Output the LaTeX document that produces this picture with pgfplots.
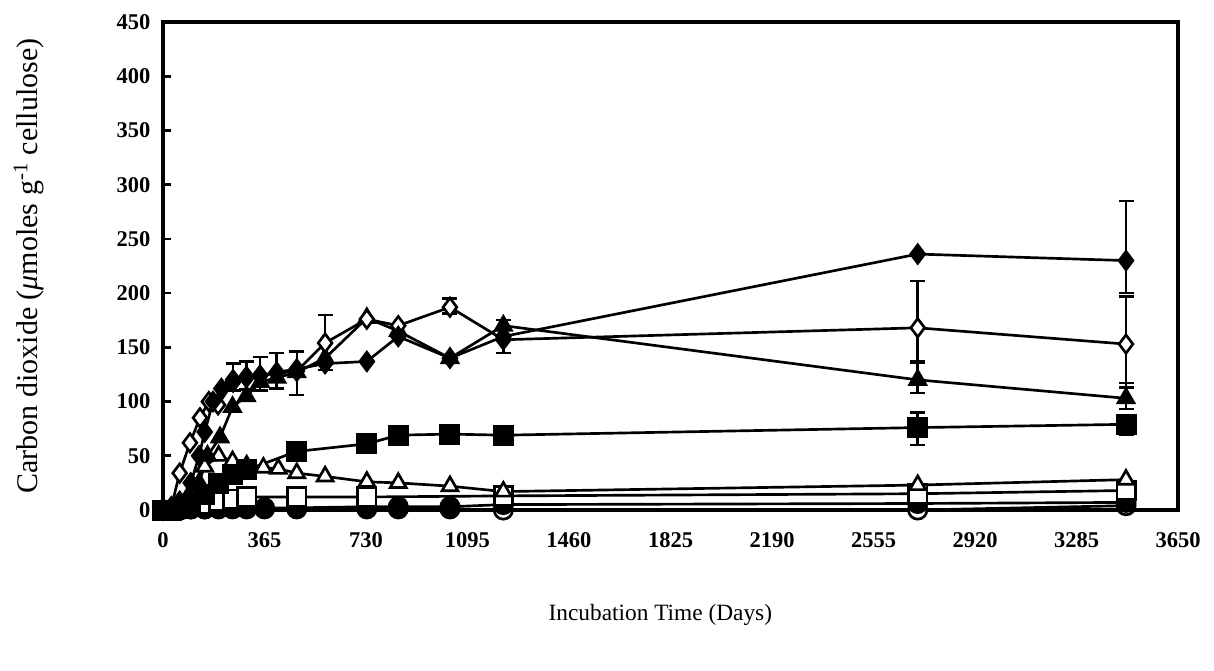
\documentclass[border=0pt]{standalone}
\usepackage{pgfplots}
\pgfplotsset{compat=1.18}
\usepackage{fontspec}
\setmainfont{Liberation Serif}
\begin{document}
\begin{tikzpicture}[x=1pt,y=1pt]
\path[use as bounding box] (-97.8pt,-96pt) rectangle (630.6pt,306pt);
\begin{axis}[
  scale only axis,
  width=609pt, height=292.8pt,
  xmin=0, xmax=3650, ymin=0, ymax=450,
  xtick={0,365,...,3650},
  ytick={0,50,...,450},
  axis line style={line width=2.6pt},
  tick style={line width=1.6pt, black},
  ytick pos=left, xtick pos=bottom,
  tick align=inside,
  major tick length=5pt,
  xtick style={draw=none},
  xticklabel style={font=\fontsize{13.5}{16}\selectfont\bfseries, yshift=-10pt},
  yticklabel style={font=\fontsize{13.5}{16}\selectfont\bfseries, xshift=-4pt},
  /pgf/number format/assume math mode=true,
  /pgf/number format/1000 sep={},
  clip=false,
  xlabel={Incubation Time (Days)},
  xlabel style={font=\fontsize{14}{17}\selectfont, at={(axis description cs:0.49,-0.215)}, anchor=center},
  ylabel={Carbon dioxide (\textit{μ}moles g\textsuperscript{-1} cellulose)},
  ylabel style={font=\fontsize{18}{21}\selectfont, at={(axis description cs:-0.132,0.5)}, anchor=center},
  every axis plot/.append style={line width=1.6pt, black},
  mark size=5.5pt,
  every mark/.append style={line width=1.5pt, solid},
]
% error bars
\addplot[draw=none, no markers, forget plot,
  error bars/.cd, y dir=both, y explicit,
  error bar style={draw=black, line width=1.5pt},
  error mark options={draw=black, rotate=90, mark size=4.5pt, line width=1.5pt}]
coordinates {
 (252,122) +=(0,13) -=(0,12)
 (300,123) +=(0,14) -=(0,12)
 (349,124) +=(0,17) -=(0,14)
 (409,127) +=(0,18) -=(0,15)
 (481,128) +=(0,18) -=(0,22)
 (583,154) +=(0,26) -=(0,25)
 (1032,187) +=(0,8) -=(0,6)
 (1224,160) +=(0,15) -=(0,15)
 (2714,168) +=(0,43) -=(0,31)
 (2714,120) +=(0,16) -=(0,12)
 (2714,76) +=(0,14) -=(0,16)
 (3463,230) +=(0,55) -=(0,30)
 (3463,153) +=(0,44) -=(0,40)
 (3463,103) +=(0,14) -=(0,10)
 (3463,79) +=(0,8) -=(0,10)
};
% open circle
\addplot[mark=*, mark options={fill=white}] coordinates {
 (0,0) (30,0) (60,0) (100,1) (150,1) (200,1) (250,1) (301,1) (365,1) (481,1) (733,1) (846,1) (1032,1) (1224,0) (2714,0) (3463,4)
};
% filled circle
\addplot[mark=*, mark options={fill=black}] coordinates {
 (0,0) (30,0) (60,0) (100,1) (150,1) (200,2) (250,2) (301,2) (365,2) (481,2) (733,3) (846,3) (1032,3) (1224,5) (2714,6) (3463,7)
};
% open square
\addplot[mark=square*, mark options={fill=white}] coordinates {
 (0,0) (30,0) (60,1) (100,3) (150,5) (200,8) (250,10) (301,12) (481,12) (733,12) (1224,13) (2714,15) (3463,18)
};
% open triangle
\addplot[mark=triangle*, mark options={fill=white}] coordinates {
 (0,0) (30,1) (60,3) (100,15) (150,40) (200,50) (250,45) (301,41) (361,39) (415,38) (481,34) (583,31) (733,26) (846,25) (1032,22) (1224,17) (2714,23) (3463,28)
};
% filled square
\addplot[mark=square*, mark options={fill=black}] coordinates {
 (0,0) (30,0) (60,1) (100,5) (150,14) (200,24) (250,33) (301,37) (481,54) (733,61) (846,69) (1032,70) (1224,69) (2714,76) (3463,79)
};
% filled triangle
\addplot[mark=triangle*, mark options={fill=black}] coordinates {
 (0,0) (30,1) (60,3) (100,10) (130,25) (160,50) (205,67) (250,95) (300,105) (350,118) (410,122) (481,127) (583,140) (733,177) (846,165) (1032,140) (1224,170) (2714,120) (3463,103)
};
% open diamond
\addplot[mark=diamond*, mark options={fill=white}] coordinates {
 (0,0) (30,3) (60,34) (97,62) (133,85) (165,100) (198,97) (252,118) (300,122) (349,124) (409,126) (481,128) (583,154) (733,176) (846,170) (1032,187) (1224,157) (2714,168) (3463,153)
};
% filled diamond
\addplot[mark=diamond*, mark options={fill=black}] coordinates {
 (0,0) (30,2) (60,8) (100,25) (130,50) (150,72) (180,100) (210,112) (252,120) (300,123) (349,124) (409,127) (481,130) (583,135) (733,137) (846,160) (1032,140) (1224,160) (2714,236) (3463,230)
};
\end{axis}
\end{tikzpicture}
\end{document}
